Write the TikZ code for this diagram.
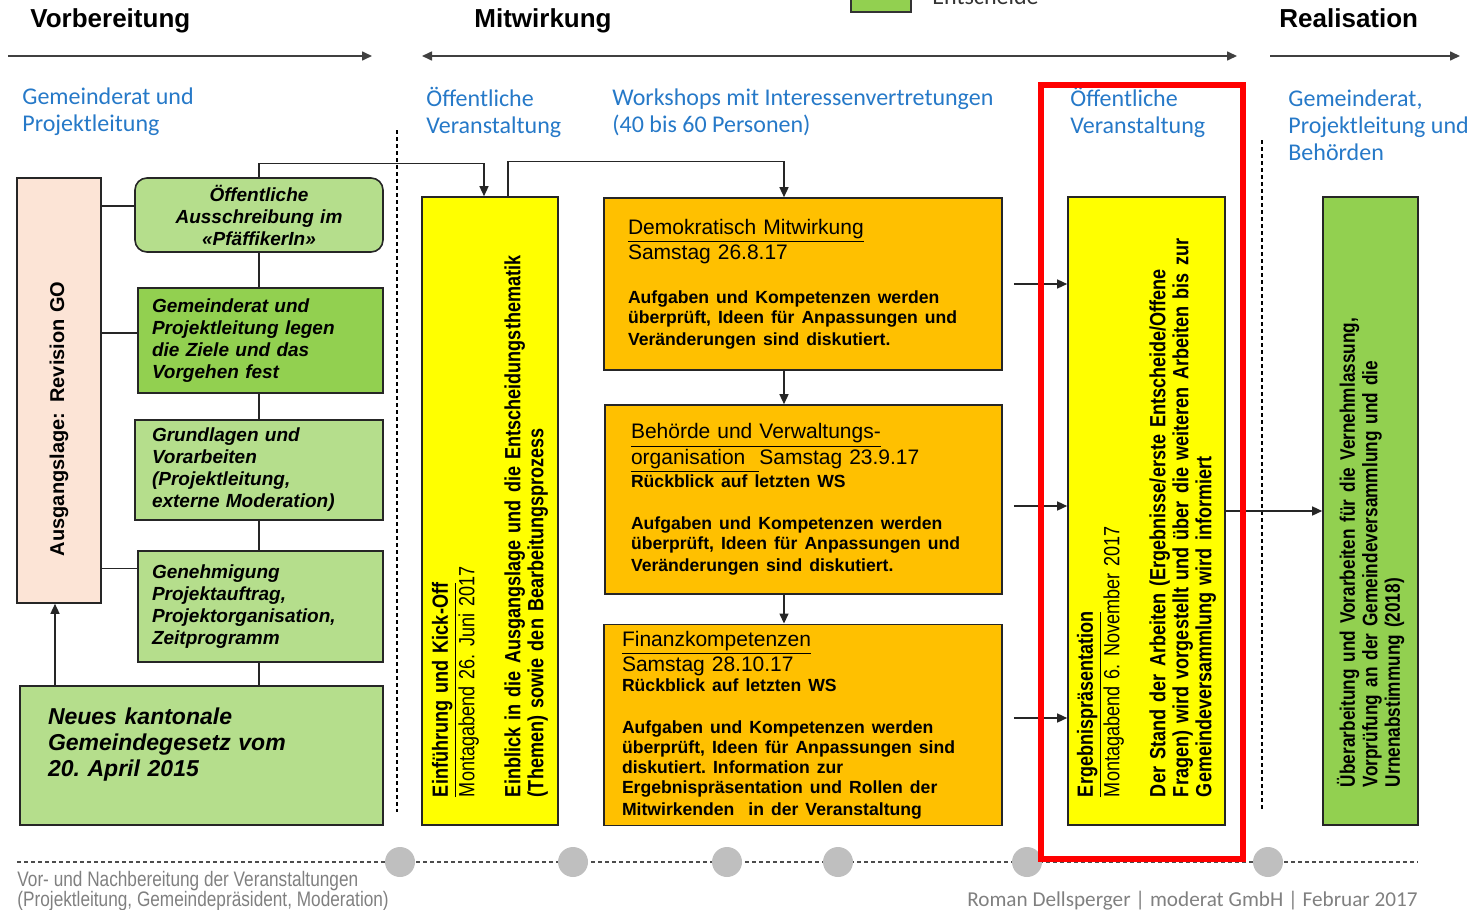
\documentclass[tikz,border=0pt]{standalone}
\usepackage{fontspec}
\setmainfont{Liberation Sans}
\newfontfamily\calfont{Carlito}
\newfontfamily\narrowfont{Liberation Sans}[FakeStretch=0.82]
\usetikzlibrary{calc, arrows.meta}
\frenchspacing

\definecolor{hellgruen}{RGB}{181,222,140}
\definecolor{gruen}{RGB}{146,208,80}
\definecolor{wsorange}{RGB}{255,192,0}
\definecolor{gelb}{RGB}{255,255,0}
\definecolor{pfirsich}{RGB}{252,228,214}
\definecolor{blau}{RGB}{38,121,200}
\definecolor{grau}{RGB}{128,128,128}
\definecolor{punktgrau}{RGB}{191,191,191}

\newcommand{\klein}{\fontsize{8.8}{10}\selectfont\bfseries}

\tikzset{
  phase/.style={font=\fontsize{13}{15}\selectfont\bfseries, anchor=base west, inner sep=0pt},
  gruppe/.style={font=\calfont\fontsize{12}{13.5}\selectfont, text=blau, align=left, anchor=west, inner sep=0pt},
  kasten/.style={draw=black!85, line width=0.8pt, align=left, font=\fontsize{9.5}{11}\selectfont\bfseries\itshape},
  hell/.style={kasten, fill=hellgruen},
  dunkel/.style={kasten, fill=gruen},
  ws/.style={draw=black!85, line width=0.8pt, fill=wsorange, align=left, font=\fontsize{10.5}{11}\selectfont},
  quer/.style={draw=black!85, line width=0.8pt, rotate=90, align=left, minimum width=314pt, font=\narrowfont\fontsize{11}{11.5}\selectfont},
  pfeil/.style={-{Triangle[length=5pt,width=4.5pt]}, line width=0.7pt, black!85},
  linie/.style={line width=0.7pt, black!85},
  zeit/.style={-{Triangle[length=5pt,width=4.5pt]}, line width=0.8pt, black!75},
  trenn/.style={line width=0.6pt, dash pattern=on 2pt off 1.5pt},
  punkt/.style={circle, fill=punktgrau, minimum size=15pt, inner sep=0pt},
  fuss/.style={font=\narrowfont\fontsize{10.5}{10}\selectfont, text=grau, align=left, inner sep=0pt},
}

\begin{document}
\begin{tikzpicture}[x=0.5pt, y=-0.5pt]
\useasboundingbox (0,0) rectangle (1478,910);

% Phasen
\node[phase] (vorb) at (30,27) {Vorbereitung};
\node[phase] (mitw) at (474,27) {Mitwirkung};
\node[phase] (reali) at (1279,27) {Realisation};
\draw[zeit] (8,56) -- (372,56);
\draw[zeit, {Triangle[length=5pt,width=4.5pt]}-{Triangle[length=5pt,width=4.5pt]}] (422,56) -- (1237,56);
\draw[zeit] (1270,56) -- (1460,56);

\node[draw=black!80, line width=0.8pt, fill=gruen, minimum width=30pt, minimum height=16pt] (leg) at (881,-4) {};
\node[font=\calfont\fontsize{12}{14}\selectfont, text=black!80, anchor=base west, inner sep=0pt] (legtxt) at (932,4) {Entscheide};

\node[gruppe] (g1) at (22,112) {Gemeinderat und\\Projektleitung};
\node[gruppe] (g2) at (426,112) {Öffentliche\\Veranstaltung};
\node[gruppe] (g3) at (612,112) {Workshops mit Interessenvertretungen\\ (40 bis 60 Personen)};
\node[gruppe] (g4) at (1070,112) {Öffentliche\\Veranstaltung};
\node[gruppe] (g5) at (1288,125) {Gemeinderat,\\Projektleitung und\\Behörden};

\draw[trenn] (397,130) -- (397,812);
\draw[trenn] (1262,140) -- (1262,810);

% Vorbereitung
\node[draw=black!85, line width=0.8pt, fill=pfirsich, rotate=90, minimum width=212.5pt, minimum height=42pt, text width=165.5pt, align=left, font=\fontsize{10}{12}\selectfont\bfseries] (go) at (59,390.5) {Ausgangslage:\, Revision GO};
\node[hell, rounded corners=6pt, align=center, minimum width=124pt, minimum height=37pt, text width=112pt] (aus) at (259,215) {Öffentliche\\Ausschreibung im\\«PfäffikerIn»};
\node[dunkel, minimum width=122.5pt, minimum height=52.5pt, text width=108.5pt] (ziele) at (260.5,340.5) {Gemeinderat und\\Projektleitung legen\\die Ziele und das\\Vorgehen fest};
\node[hell, minimum width=124pt, minimum height=50pt, text width=107pt] (grund) at (259,470) {Grundlagen und\\Vorarbeiten\\(Projektleitung,\\externe Moderation)};
\node[hell, minimum width=122.5pt, minimum height=55.5pt, text width=108.5pt] (gen) at (260.5,606.5) {Genehmigung\\Projektauftrag,\\Projektorganisation,\\Zeitprogramm};
\node[hell, minimum width=181.5pt, minimum height=69.5pt, text width=153.5pt, font=\fontsize{11.5}{13}\selectfont\bfseries\itshape] (law) at (201.5,755.5) {Neues kantonale\\Gemeindegesetz vom\\20. April 2015\\\mbox{}};

\draw[linie] ([yshift=4.5pt]aus.west) -- ([yshift=4.5pt]aus.west -| go.south);
\draw[linie] ([yshift=3.75pt]ziele.west) -- ([yshift=3.75pt]ziele.west -| go.south);
\draw[linie] ([yshift=19pt]gen.west) -- ([yshift=19pt]gen.west -| go.south);
\draw[linie] (aus.south) -- (aus.south |- ziele.north);
\draw[linie] (aus.south |- ziele.south) -- (aus.south |- grund.north);
\draw[linie] (aus.south |- grund.south) -- (aus.south |- gen.north);
\draw[linie] (aus.south |- gen.south) -- (aus.south |- law.north);
\draw[pfeil] ($(go.west |- law.north)+(-4,0)$) -- ($(go.west)+(-4,0)$);

% Mitwirkung
\node[quer, fill=gelb, minimum height=68pt, text width=286pt] (yel1) at (490,511) {\underline{\textbf{Einführung und Kick-Off}}\\Montagabend 26. Juni 2017\\[11.5pt]\textbf{Einblick in die Ausgangslage und die Entscheidungsthematik\\(Themen) sowie den Bearbeitungsprozess}};

\node[ws, minimum width=199pt, minimum height=86pt, text width=175pt] (ws1) at (803,284) {\underline{Demokratisch Mitwirkung}\\Samstag 26.8.17\par\vspace{12pt}\klein Aufgaben und Kompetenzen werden\\überprüft, Ideen für Anpassungen und\\Veränderungen sind diskutiert.};
\node[ws, minimum width=198.5pt, minimum height=94.5pt, text width=172.5pt] (ws2) at (803.5,499.5) {\underline{Behörde und Verwaltungs-}\\\underline{organisation\ \ }Samstag 23.9.17\par\klein Rückblick auf letzten WS\par\vspace{11pt}Aufgaben und Kompetenzen werden\\überprüft, Ideen für Anpassungen und\\Veränderungen sind diskutiert.};
\node[ws, minimum width=199pt, minimum height=100pt, text width=181pt] (ws3) at (803,725) {\underline{Finanzkompetenzen}\\Samstag 28.10.17\par\klein Rückblick auf letzten WS\par\vspace{11pt}Aufgaben und Kompetenzen werden\\überprüft, Ideen für Anpassungen sind\\diskutiert. Information zur\\Ergebnispräsentation und Rollen der\\Mitwirkenden~ in der Veranstaltung};

\node[quer, fill=gelb, minimum height=78.5pt, text width=286pt] (yel2) at (1146.5,511) {\underline{\textbf{Ergebnispräsentation}}\\Montagabend 6. November 2017\\[11.5pt]\textbf{Der Stand der Arbeiten (Ergebnisse/erste Entscheide/Offene\\Fragen) wird vorgestellt und über die weiteren Arbeiten bis zur\\Gemeindeversammlung wird informiert}};

\draw[pfeil] (aus.north) -- ++(0,-14) -| ($(yel1.east)+(-6,0)$);
\draw[pfeil] ($(yel1.east)+(18,0)$) -- ++(0,-35) -| ($(ws1.north)+(-19,0)$);
\draw[pfeil] ($(ws1.south)+(-19,0)$) -- ($(ws2.north)+(-19.5,0)$);
\draw[pfeil] ($(ws2.south)+(-19.5,0)$) -- ($(ws3.north)+(-19,0)$);
\draw[pfeil] ([xshift=5.5pt]ws1.east) -- (ws1.east -| yel2.north);
\draw[pfeil] ([xshift=5.5pt,yshift=-3.25pt]ws2.east) -- ([yshift=-3.25pt]ws2.east -| yel2.north);
\draw[pfeil] ([xshift=5.5pt,yshift=3.5pt]ws3.east) -- ([yshift=3.5pt]ws3.east -| yel2.north);

% Realisation
\node[quer, fill=gruen, minimum height=47.5pt, text width=276pt, font=\narrowfont\fontsize{10.5}{11.25}\selectfont\bfseries] (ueber) at (1370.5,511) {Überarbeitung und Vorarbeiten für die Vernehmlassung,\\Vorprüfung an der Gemeindeversammlung und die\\Urnenabstimmung (2018)};
\draw[pfeil] (yel2.south) -- (yel2.south -| ueber.north);

% Zeitachse unten
\draw[trenn, black!70] (17,862) -- (1418,862);
\foreach \x in {400,573,727,838,1027,1268}
  \node[punkt] (p\x) at (\x,862) {};
\node[fuss, anchor=west] (fuss1) at (17,891) {Vor- und Nachbereitung der Veranstaltungen\\(Projektleitung, Gemeindepräsident, Moderation)};
\node[font=\calfont\fontsize{10.6}{12}\selectfont, text=grau, anchor=east, inner sep=0pt] (fuss2) at (1418,901) {Roman Dellsperger | moderat GmbH | Februar 2017};

\draw[red, line width=3pt] (1041,85) rectangle (1243,859);
\end{tikzpicture}
\end{document}
